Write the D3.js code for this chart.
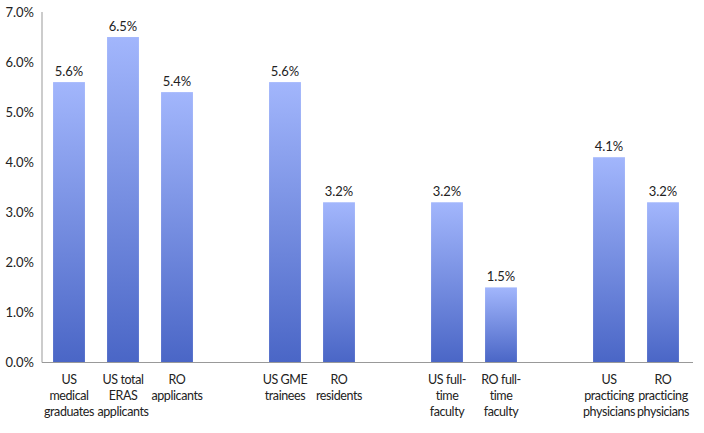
<!DOCTYPE html>
<html><head><meta charset="utf-8">
<script src="https://cdn.jsdelivr.net/npm/d3@7"></script>
<style>body{margin:0;background:#fff}svg text{font-family:Lato,sans-serif;font-size:13px;fill:#222}</style>
</head><body><svg id="c" width="704" height="433"></svg>
<script>
// slots: categories with gaps (null) between groups
const categories = [
  ["US","medical","graduates"],
  ["US total","ERAS","applicants"],
  ["RO","applicants"],
  null,
  ["US GME","trainees"],
  ["RO","residents"],
  null,
  ["US full-","time","faculty"],
  ["RO full-","time","faculty"],
  null,
  ["US","practicing","physicians"],
  ["RO","practicing","physicians"]
];
const values = [5.6, 6.5, 5.4, null, 5.6, 3.2, null, 3.2, 1.5, null, 4.1, 3.2];
const yTicks = [0,1,2,3,4,5,6,7];

const svg = d3.select("#c");
const x0 = 42, x1 = 690, yB = 362.5, yT = 12;
const slots = categories.map((c,i)=>i);
const x = d3.scaleBand().domain(slots).range([x0,x1]).paddingInner(0.41).paddingOuter(0.205);
const y = d3.scaleLinear().domain([0,7]).range([yB,yT]);

const defs = svg.append("defs");
const g = defs.append("linearGradient").attr("id","bg").attr("x1",0).attr("y1",0).attr("x2",0).attr("y2",1);
g.append("stop").attr("offset","0%").attr("stop-color","#a2b6fc");
g.append("stop").attr("offset","100%").attr("stop-color","#4a66c6");

// y axis labels
svg.append("g").selectAll("text").data(yTicks).join("text")
  .attr("x",34).attr("y",d=>y(d)+4.5).attr("text-anchor","end")
  .text(d=>d.toFixed(1)+"%");

const data = slots.filter(i=>values[i]!=null).map(i=>({i,v:values[i],c:categories[i]}));

svg.append("g").selectAll("rect").data(data).join("rect")
  .attr("x",d=>x(d.i)).attr("width",x.bandwidth())
  .attr("y",d=>y(d.v)).attr("height",d=>yB-y(d.v))
  .attr("fill","url(#bg)");

svg.append("g").selectAll("text").data(data).join("text")
  .attr("x",d=>x(d.i)+x.bandwidth()/2).attr("y",d=>y(d.v)-6)
  .attr("text-anchor","middle").text(d=>d.v.toFixed(1)+"%");

// axes lines
svg.append("line").attr("x1",x0).attr("x2",x0).attr("y1",yT).attr("y2",yB).attr("stroke","#999").attr("stroke-width",1);
svg.append("line").attr("x1",x0).attr("x2",693).attr("y1",yB).attr("y2",yB).attr("stroke","#999").attr("stroke-width",1);

// category labels
const lab = svg.append("g").selectAll("text").data(data).join("text")
  .attr("text-anchor","middle").style("font-size","12.5px").style("letter-spacing","-0.4px")
  .attr("transform",d=>`translate(${x(d.i)+x.bandwidth()/2},384)`);
lab.selectAll("tspan").data(d=>d.c).join("tspan")
  .attr("x",0).attr("dy",(d,j)=>j===0?0:16).text(d=>d);
</script></body></html>
